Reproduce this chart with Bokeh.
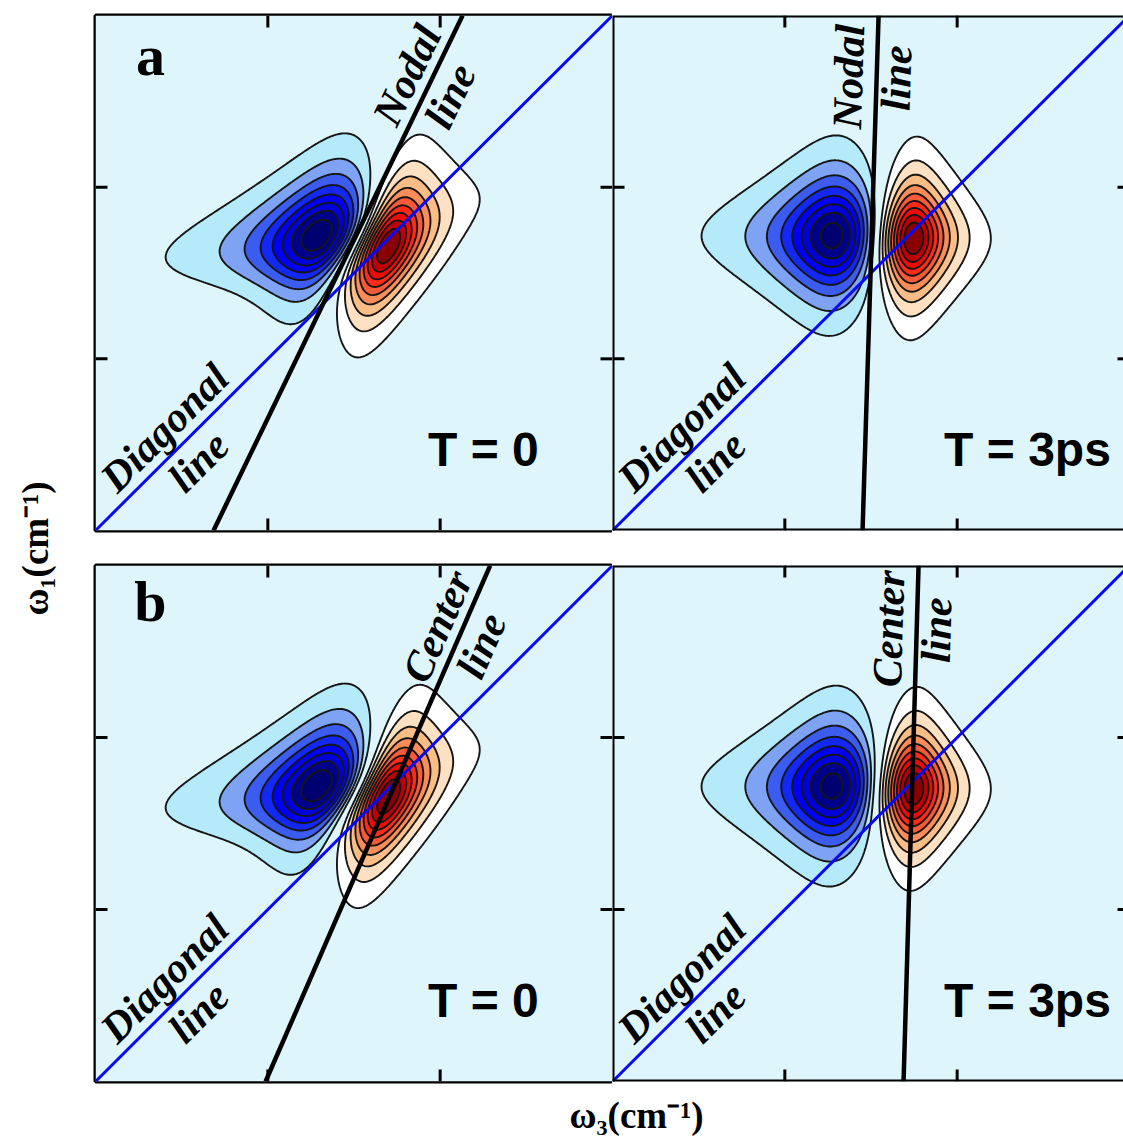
import numpy as np
from bokeh.plotting import figure
from bokeh.layouts import row, column
from bokeh.models import Range1d, Span, Label
from bokeh.core.properties import value
from bokeh.embed import file_html
from bokeh.resources import INLINE

# ---------------- data ----------------
tick_values = [1, 2]                 # unlabelled ticks on the ω3 and ω1 axes
axis_span = [0, 3]                   # frequency window (tick units)
panel_letters = ["a", "b"]
waiting_times = ["T = 0", "T = 3ps"]
row_line_words = [["Nodal", "line"], ["Center", "line"]]
diag_words = ["Diagonal", "line"]

# two-peak 2D spectrum (bleach + excited-state absorption), columns: T = 0, T = 3 ps
pair_w3 = [1.505, 1.52]          # midpoint of the two components along ω3
bleach_w1 = [1.675, 1.705]       # ω1 centre of the bleach (red) component
esa_w1 = [1.695, 1.715]          # ω1 centre of the ESA (blue) component
component_split = [0.36, 0.42]   # ω3 distance between bleach and ESA components
tilt_w3 = [0.22, 0.031]          # ω3 shear per unit ω1 (frequency correlation)
bleach_tilt_w1 = [0.32, 0.0]     # ω1 shear per unit ω3, bleach
esa_tilt_w1 = [0.12, 0.0]        # ω1 shear per unit ω3, ESA
bleach_width_w1 = [0.20, 0.20]
esa_width_w1 = [0.205, 0.205]
bleach_width_w3 = [0.21, 0.20]
esa_width_w3 = [0.30, 0.30]
esa_amplitude = [0.8, 0.8]

# overlay lines: ω3 where they cross ω1 = 0 and ω1 = 3   [T=0, T=3ps]
nodal_ends = [[0.685, 2.13], [1.451, 1.544]]
center_ends = [[0.987, 2.29], [1.689, 1.776]]

contour_levels = [-1.001, -0.9, -0.8, -0.7, -0.6, -0.5, -0.4, -0.3, -0.2, -0.1,
                  0.1, 0.2, 0.3, 0.4, 0.5, 0.6, 0.7, 0.8, 0.9, 1.001]
BG = "#def5fc"
band_colors = ["#000060", "#000070", "#00008c", "#0000d8", "#0000f5", "#1428f5",
               "#3c5cf0", "#7ea3f4", "#b4eafa", BG,
               "#ffffff", "#fde1c2", "#fbbd86", "#f98c58", "#f75a38", "#ff2a18",
               "#f00a06", "#c00000", "#8a0000"]

# ---------------- layout geometry ----------------
frame_w = [517, 511]
frame_h = [515, 516]
mb_top = [15, 18]
mb_bottom = [17, 3]
mb_left = [2, 0]
ylab_w = 93
xlab_h = 52
SERIF_NAME = "Liberation Serif"
SANS_NAME = "Liberation Sans"
SERIF = value(SERIF_NAME)


def lorentz(u):
    return 1.0 / (1.0 + u * u)


def component(k, X, Y, xc, yc, w3, w1, b):
    dx, dy = X - xc, Y - yc
    v = dx - tilt_w3[k] * dy
    u = dy - b * dx
    return lorentz(v / w3) / np.cosh(u / w1)


def spectrum(k, X, Y):
    half = component_split[k] / 2
    bleach = component(k, X, Y, pair_w3[k] + half, bleach_w1[k],
                       bleach_width_w3[k], bleach_width_w1[k], bleach_tilt_w1[k])
    esa = esa_amplitude[k] * component(k, X, Y, pair_w3[k] - half, esa_w1[k],
                                       esa_width_w3[k], esa_width_w1[k], esa_tilt_w1[k])
    s = bleach - esa
    return s / s.max()


def line_labels(p, ends, y_at, words, ux, uy, offs, size):
    xb, xt = ends
    span = axis_span[1]
    ang = float(np.arctan2(uy, (xt - xb) / span * ux))
    x_on = xb + (xt - xb) * y_at / span
    nx, ny = -np.sin(ang), np.cos(ang)
    for w, off in zip(words, offs):
        p.add_layout(Label(x=float(x_on + off * nx / ux), y=float(y_at + off * ny / uy),
                           text=w, angle=ang, text_align="center", text_baseline="middle",
                           text_font=SERIF_NAME, text_font_style="bold italic",
                           text_font_size=f"{size}px", text_color="black"))


def make_panel(r, c):
    fw, fh = frame_w[c], frame_h[r]
    x_end = axis_span[1] * fw / frame_w[0]
    y_end = axis_span[1]
    p = figure(width=fw + mb_left[c], height=fh + mb_top[r] + mb_bottom[r],
               x_range=Range1d(0, x_end), y_range=Range1d(0, y_end),
               output_backend="svg", toolbar_location=None, tools="",
               x_axis_location=None, y_axis_location=None,
               min_border_left=mb_left[c], min_border_right=0,
               min_border_top=mb_top[r], min_border_bottom=mb_bottom[r])
    p.grid.visible = False
    p.background_fill_color = BG
    p.border_fill_color = "white"
    ux, uy = fw / x_end, fh / y_end

    xg = np.linspace(0, x_end, 360)
    yg = np.linspace(0, y_end, 360)
    X, Y = np.meshgrid(xg, yg)
    Z = spectrum(c, X, Y)
    p.contour(xg, yg, Z, contour_levels, fill_color=band_colors,
              line_color="#151515", line_width=1.9)

    # diagonal
    p.line(x=axis_span, y=axis_span, line_color="#0a0af0", line_width=3)
    # nodal / center line
    ends = nodal_ends[c] if r == 0 else center_ends[c]
    p.line(x=ends, y=axis_span, line_color="black", line_width=4.5)

    # ticks (inward, all sides)
    Lx, Ly = 12 / ux, 12 / uy
    x0, y0, x1, y1 = [], [], [], []
    for t in tick_values:
        x0 += [t, t, 0, axis_span[1]]
        y0 += [0, y_end, t, t]
        x1 += [t, t, Lx, axis_span[1] - Lx]
        y1 += [Ly, y_end - Ly, t, t]
    p.segment(x0=x0, y0=y0, x1=x1, y1=y1, line_color="black", line_width=3)

    # borders
    if c == 0:
        p.outline_line_color = "black"
        p.outline_line_width = 4
    else:
        p.outline_line_color = None
        p.add_layout(Span(location=0, dimension="height", line_color="black", line_width=4))
        p.add_layout(Span(location=0, dimension="width", line_color="black", line_width=4))
        p.add_layout(Span(location=y_end, dimension="width", line_color="black", line_width=4))

    # texts
    line_labels(p, [0, axis_span[1]], 0.50, diag_words, ux, uy, (24, -24), 42)
    line_y = [[2.592, 2.639], [2.59, 2.628]][r][c]
    offs = (24, -24) if c == 0 else (28, -20)
    line_labels(p, ends, line_y, row_line_words[r], ux, uy, offs, 42)
    tx = [2.251, 2.408][c]
    p.add_layout(Label(x=tx, y=0.47, text=waiting_times[c], text_align="center",
                       text_baseline="middle", text_font=SANS_NAME, text_font_style="bold",
                       text_font_size="48px", text_color="black"))
    if c == 0:
        p.add_layout(Label(x=0.319, y=[2.765, 2.79][r], text=panel_letters[r],
                           text_align="center", text_baseline="middle",
                           text_font=SERIF_NAME, text_font_style="bold",
                           text_font_size="58px", text_color="black"))
    return p


panels = [[make_panel(r, c) for c in range(2)] for r in range(2)]

H_total = sum(frame_h[r] + mb_top[r] + mb_bottom[r] for r in range(2)) + xlab_h
W_right = sum(frame_w[c] + mb_left[c] for c in range(2))

ylab = figure(width=ylab_w, height=H_total, x_range=Range1d(0, ylab_w),
              y_range=Range1d(0, H_total), output_backend="svg",
              toolbar_location=None, tools="", x_axis_location=None,
              y_axis_location=None, min_border=0)
ylab.grid.visible = False
ylab.outline_line_color = None
ylab.background_fill_color = "white"
ylab.text(x=[35], y=[H_total - 548], text=["ω₁(cm⁻¹)"], angle=np.pi / 2,
          text_align="center", text_baseline="middle", text_font=SERIF,
          text_font_style="bold", text_font_size="37px", text_color="black")

xlab = figure(width=W_right, height=xlab_h, x_range=Range1d(0, W_right),
              y_range=Range1d(0, xlab_h), output_backend="svg",
              toolbar_location=None, tools="", x_axis_location=None,
              y_axis_location=None, min_border=0)
xlab.grid.visible = False
xlab.outline_line_color = None
xlab.background_fill_color = "white"
xlab.text(x=[543], y=[21], text=["ω₃(cm⁻¹)"], text_align="center",
          text_baseline="middle", text_font=SERIF, text_font_style="bold",
          text_font_size="37px", text_color="black")

layout = row(ylab, column(row(panels[0][0], panels[0][1]),
                          row(panels[1][0], panels[1][1]), xlab))

open("out.html", "w").write(file_html(layout, INLINE))
